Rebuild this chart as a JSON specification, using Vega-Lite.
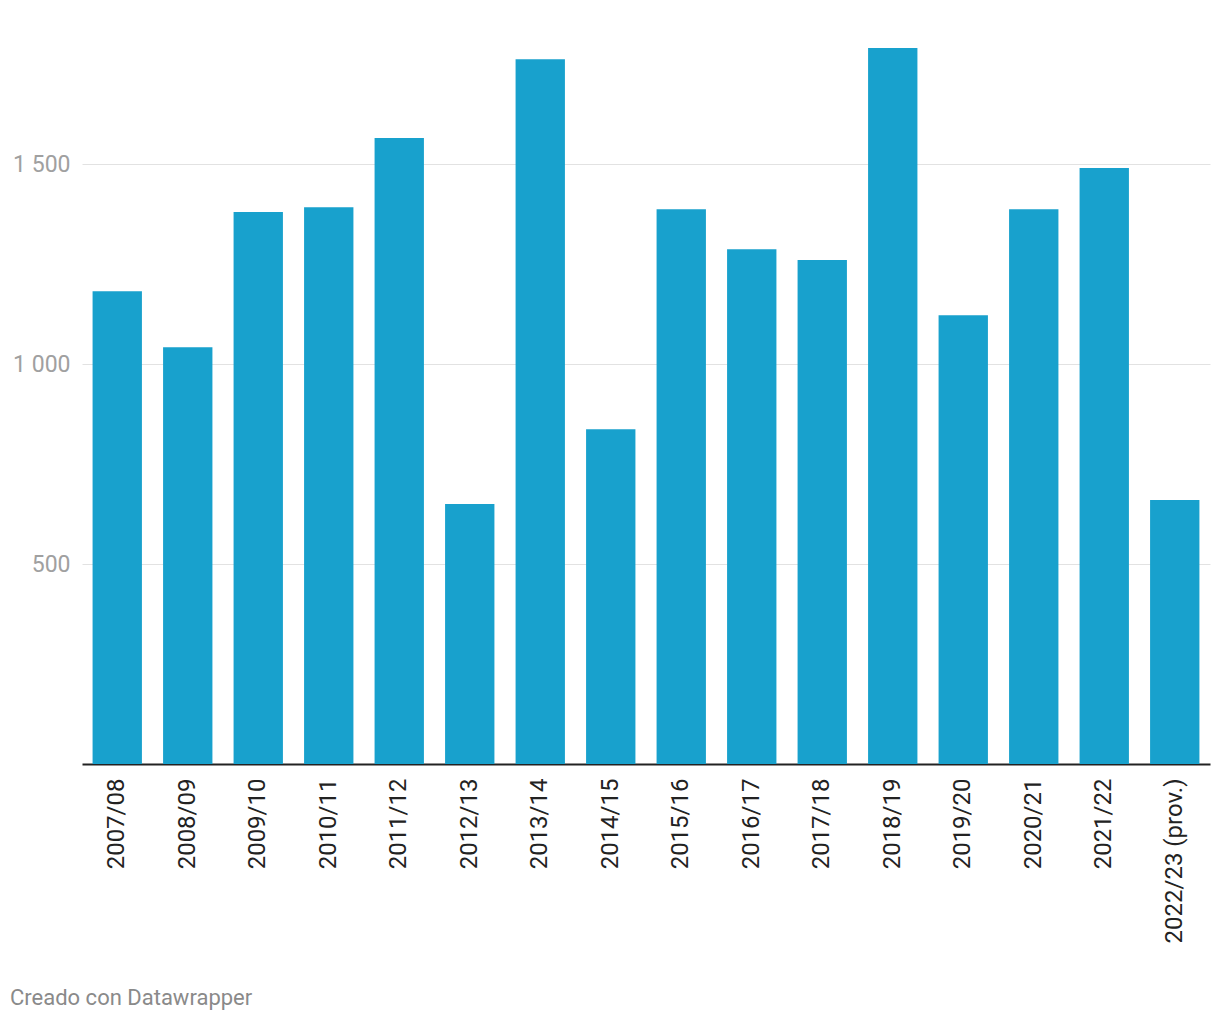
{
  "$schema": "https://vega.github.io/schema/vega-lite/v6.json",
  "width": 1128,
  "height": 720,
  "autosize": {"type": "none"},
  "padding": {"left": 82, "top": 44, "right": 10, "bottom": 256},
  "background": "white",
  "data": {
    "values": [
      {"season": "2007/08", "value": 1182},
      {"season": "2008/09", "value": 1042},
      {"season": "2009/10", "value": 1380},
      {"season": "2010/11", "value": 1392},
      {"season": "2011/12", "value": 1565},
      {"season": "2012/13", "value": 650},
      {"season": "2013/14", "value": 1762},
      {"season": "2014/15", "value": 837},
      {"season": "2015/16", "value": 1387},
      {"season": "2016/17", "value": 1287},
      {"season": "2017/18", "value": 1260},
      {"season": "2018/19", "value": 1790},
      {"season": "2019/20", "value": 1122},
      {"season": "2020/21", "value": 1387},
      {"season": "2021/22", "value": 1490},
      {"season": "2022/23 (prov.)", "value": 660}
    ]
  },
  "title": {
    "text": "Creado con Datawrapper",
    "orient": "bottom",
    "anchor": "start",
    "frame": "group",
    "dx": -72,
    "offset": 45,
    "font": "Roboto",
    "fontSize": 22,
    "fontWeight": "normal",
    "color": "#8a8a8a"
  },
  "mark": {"type": "bar", "color": "#18a1cd"},
  "encoding": {
    "x": {
      "field": "season",
      "type": "nominal",
      "sort": null,
      "scale": {"paddingInner": 0.3, "paddingOuter": 0.15},
      "axis": {
        "title": null,
        "labelAngle": 270,
        "labelFont": "Roboto",
        "labelFontSize": 24,
        "labelColor": "#222222",
        "labelPadding": 14,
        "ticks": false,
        "domain": true,
        "domainColor": "#222222",
        "domainWidth": 2,
        "grid": false
      }
    },
    "y": {
      "field": "value",
      "type": "quantitative",
      "scale": {"domain": [0, 1800], "nice": false},
      "axis": {
        "title": null,
        "values": [500, 1000, 1500],
        "labelExpr": "replace(format(datum.value, ','), ',', ' ')",
        "labelFont": "Roboto",
        "labelFontSize": 23,
        "labelColor": "#a0a0a0",
        "labelPadding": 12,
        "ticks": false,
        "domain": false,
        "grid": true,
        "gridColor": "#e2e2e2",
        "gridWidth": 1
      }
    }
  },
  "config": {"view": {"stroke": null}}
}
